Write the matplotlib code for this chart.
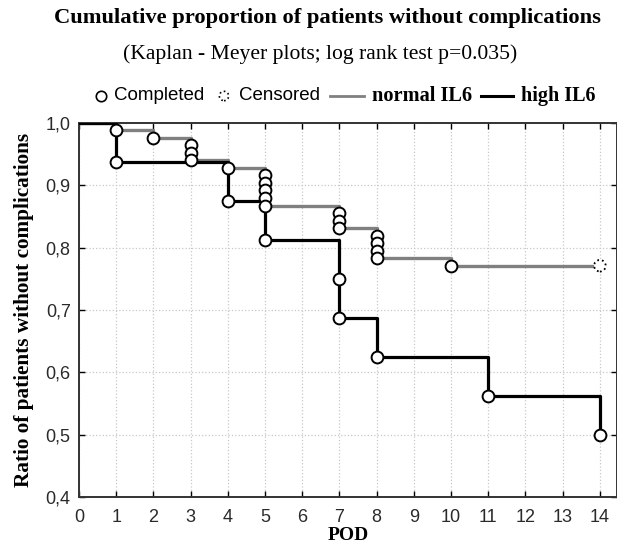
import matplotlib
matplotlib.use("Agg")
import matplotlib.pyplot as plt
from matplotlib.ticker import FuncFormatter

# ---- data ----
normal_times = [1, 2, 3, 3, 3, 4, 5, 5, 5, 5, 5, 7, 7, 7, 8, 8, 8, 8, 10]
normal_surv = [0.988, 0.976, 0.964, 0.952, 0.940, 0.928, 0.916, 0.904, 0.892,
               0.880, 0.867, 0.855, 0.843, 0.831, 0.819, 0.807, 0.795, 0.783, 0.771]
normal_censored_time = [14]
normal_censored_surv = [0.771]

high_times = [1, 4, 5, 7, 7, 8, 11, 14]
high_surv = [0.9375, 0.875, 0.8125, 0.75, 0.6875, 0.625, 0.5625, 0.5]

x_ticks = list(range(0, 15))
y_ticks = [0.4, 0.5, 0.6, 0.7, 0.8, 0.9, 1.0]

title = "Cumulative proportion of patients without complications"
subtitle = "(Kaplan - Meyer plots; log rank test p=0.035)"
xlabel = "POD"
ylabel = "Ratio of patients without complications"

W, H = 617, 549
fig = plt.figure(figsize=(W / 100, H / 100), dpi=100)

L, R, T, B = 79, 617, 123, 497
ax = fig.add_axes([L / W, 1 - B / H, (R - L) / W, (B - T) / H])

serif = ["Liberation Serif", "DejaVu Serif"]
sans = ["Liberation Sans", "DejaVu Sans"]

GRAY = "#808080"

# step lines
nx = [0] + normal_times + normal_censored_time
ny = [1.0] + normal_surv + normal_censored_surv
ax.plot(nx, ny, drawstyle="steps-post", color=GRAY, lw=2.4, zorder=3)
hx = [0] + high_times
hy = [1.0] + high_surv
ax.plot(hx, hy, drawstyle="steps-post", color="black", lw=2.3, zorder=4)

# event markers
ax.plot(normal_times, normal_surv, "o", ms=8.5, mfc="white", mec="black", mew=1.4,
        ls="none", zorder=5)
ax.plot(high_times, high_surv, "o", ms=8.5, mfc="white", mec="black", mew=1.4,
        ls="none", zorder=5)
ax.scatter(normal_censored_time, normal_censored_surv, s=70, facecolors="white",
           edgecolors="black", linewidths=1.3, linestyles=":", zorder=5)

ax.set_xlim(0, 14.46)
ax.set_ylim(0.4, 1.0)
ax.set_xticks(x_ticks)
ax.set_yticks(y_ticks)
ax.yaxis.set_major_formatter(FuncFormatter(lambda v, p: f"{v:.1f}".replace(".", ",")))
ax.tick_params(direction="in", length=4, width=1, top=True, right=True,
               labelsize=13, labelcolor="#2a2a2a")
ax.tick_params(axis="x", pad=9)
ax.tick_params(axis="y", pad=6)
for lab in ax.get_xticklabels() + ax.get_yticklabels():
    lab.set_family(sans)
ax.grid(True, color="#c8c8c8", ls=":", lw=0.9)
ax.set_axisbelow(True)
for s in ax.spines.values():
    s.set_linewidth(1.4)
    s.set_color("#333333")

ax.set_xlabel(xlabel, family=serif, fontweight="bold", fontsize=14, labelpad=0)
ax.set_ylabel(ylabel, family=serif, fontweight="bold", fontsize=15.3, labelpad=8)

# titles
fig.text(327 / W, 1 - 18 / H, title, family=serif, fontweight="bold", fontsize=16.2,
         ha="center", va="center")
fig.text(320 / W, 1 - 54 / H, subtitle, family=serif, fontsize=15.6,
         ha="center", va="center")

# custom legend row in pixel coordinates
lax = fig.add_axes([0, 0, 1, 1], facecolor="none")
lax.set_xlim(0, W)
lax.set_ylim(H, 0)
lax.axis("off")
ly = 96
lax.plot([101], [ly], "o", ms=7.5, mfc="white", mec="black", mew=1.2)
lax.text(114, ly, "Completed", family=sans, fontsize=13.5, va="center", ha="left")
lax.scatter([224], [ly], s=45, facecolors="white", edgecolors="black",
            linewidths=1.2, linestyles=":")
lax.text(239, ly, "Censored", family=sans, fontsize=13.5, va="center", ha="left")
lax.plot([330, 364], [ly, ly], color=GRAY, lw=2.0)
lax.text(372, ly, "normal IL6", family=serif, fontweight="bold", fontsize=14.7,
         va="center", ha="left")
lax.plot([481, 513], [ly, ly], color="black", lw=2.2)
lax.text(521, ly, "high IL6", family=serif, fontweight="bold", fontsize=14.5,
         va="center", ha="left")

fig.savefig("out.png", dpi=100)
